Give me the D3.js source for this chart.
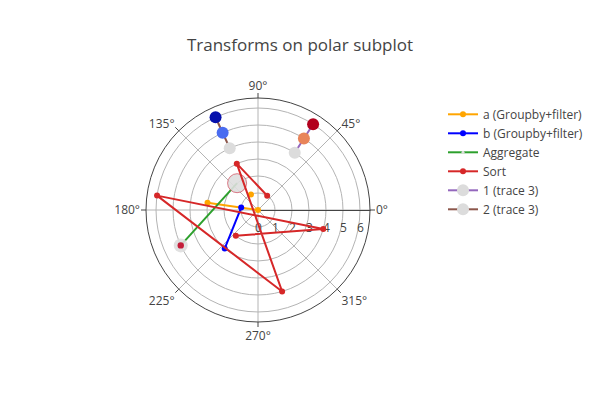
<!DOCTYPE html>
<html><head><meta charset="utf-8">
<script src="https://cdn.jsdelivr.net/npm/d3@7/dist/d3.min.js"></script>
<style>body{margin:0;background:#fff} svg{font-family:"Open Sans",sans-serif}</style>
</head><body><svg id="c" width="600" height="400"></svg>
<script>
// ---- data (theta in radians) ----
const chartTitle = "Transforms on polar subplot";
const angleTicks = [0, 45, 90, 135, 180, 225, 270, 315];
const radialTicks = [0, 1, 2, 3, 4, 5, 6];
const traceNames = ["a (Groupby+filter)", "b (Groupby+filter)", "Aggregate", "Sort", "1 (trace 3)", "2 (trace 3)"];
const aR = [3, 0, null, 1];
const aTheta = [3, 0, null, 2];
const bR = [1, 3];
const bTheta = [3, 4];
const aggR = [5, 2];
const aggTheta = [3.571, 2.233];
const sortR = [2, 4, 6, 5, 3, 1];
const sortTheta = [4, 6, 3, 5, 2, 1];
const t1R = [4, 5, 6];
const t1Theta = [1, 1, 1];
const t1Color = [0, 1, 2];
const t2R = [4, 5, 6];
const t2Theta = [2, 2, 2];
const t2Color = [0, -1, -2];
const radialMax = 6.59;

// ---- layout ----
const svg = d3.select("#c");
const cx = 258, cy = 210, R = 112;
const textColor = "#444", gridColor = "rgb(180,180,180)";
const r = d3.scaleLinear().domain([0, radialMax]).range([0, R]);
const deg = d3.scaleLinear().domain([0, 360]).range([0, 2 * Math.PI]);
const colorScale = d3.scaleLinear().domain([-2, -1, 0, 1, 2])
  .range(["#0510ac", "#4a6cf0", "#dcdcdc", "#e8845a", "#b2001d"]);

svg.append("text").attr("x", 300).attr("y", 45).attr("dy", "0.35em")
  .attr("text-anchor", "middle").attr("font-size", 17).attr("fill", textColor).text(chartTitle);

const g = svg.append("g").attr("transform", `translate(${cx},${cy})`);
const pt = (rv, t) => [r(rv) * Math.cos(t), -r(rv) * Math.sin(t)];

// radial grid circles
g.selectAll("circle.grid").data(radialTicks.filter(d => d > 0)).join("circle")
  .attr("r", d => r(d)).attr("fill", "none").attr("stroke", gridColor).attr("stroke-width", 1);
// angular grid spokes
g.selectAll("line.spoke").data(angleTicks).join("line")
  .attr("x1", 0).attr("y1", 0)
  .attr("x2", d => R * Math.cos(deg(d))).attr("y2", d => -R * Math.sin(deg(d)))
  .attr("stroke", gridColor).attr("stroke-width", 1);
// outer circle
g.append("circle").attr("r", R).attr("fill", "none").attr("stroke", textColor).attr("stroke-width", 1);
// angular ticks
g.selectAll("line.atick").data(angleTicks).join("line")
  .attr("x1", d => R * Math.cos(deg(d))).attr("y1", d => -R * Math.sin(deg(d)))
  .attr("x2", d => (R + 5) * Math.cos(deg(d))).attr("y2", d => -(R + 5) * Math.sin(deg(d)))
  .attr("stroke", textColor).attr("stroke-width", 1);
// angular labels
const pad = 6, fs = 12;
g.selectAll("text.alab").data(angleTicks).join("text")
  .attr("font-size", fs).attr("fill", textColor)
  .attr("text-anchor", d => { const c = Math.cos(deg(d)); return Math.abs(c) < 0.1 ? "middle" : (c > 0 ? "start" : "end"); })
  .attr("x", d => (R + pad) * Math.cos(deg(d)))
  .attr("y", d => { const a = deg(d), s = Math.sin(a), ff = s > 0 ? 0.2 : 1;
    return -R * s - s * (pad + fs * ff) + Math.abs(Math.cos(a)) * fs * 0.35; })
  .text(d => d + "°");

// radial axis
const rAxis = d3.axisBottom(r).tickValues(radialTicks).tickFormat(d3.format("d"))
  .tickSize(0).tickSizeOuter(0).tickPadding(13.5);
const ra = g.append("g").call(rAxis);
ra.select(".domain").attr("stroke", textColor);
ra.selectAll("text").attr("font-size", 12).attr("fill", textColor).attr("font-family", '"Open Sans",sans-serif');

// traces
const plot = g.append("g");
function toPts(rs, ts) { return rs.map((v, i) => ({ r: v, t: ts[i] })); }
const line = d3.line().defined(d => d.r != null).x(d => pt(d.r, d.t)[0]).y(d => pt(d.r, d.t)[1]);
function drawTrace(rs, ts, color, mr) {
  const data = toPts(rs, ts);
  plot.append("path").attr("d", line(data)).attr("fill", "none").attr("stroke", color).attr("stroke-width", 2);
  plot.append("g").selectAll("circle").data(data.filter(d => d.r != null)).join("circle")
    .attr("cx", d => pt(d.r, d.t)[0]).attr("cy", d => pt(d.r, d.t)[1]).attr("r", mr).attr("fill", color);
}
drawTrace(aR, aTheta, "orange", 3);
drawTrace(bR, bTheta, "blue", 3);
// aggregate
{
  const data = toPts(aggR, aggTheta);
  plot.append("path").attr("d", line(data)).attr("fill", "none").attr("stroke", "#2ca02c").attr("stroke-width", 2);
  const sizes = [7, 9.5];
  const mk = plot.append("g").selectAll("g").data(data).join("g")
    .attr("transform", d => `translate(${pt(d.r, d.t)})`);
  mk.append("circle").attr("r", (d, i) => sizes[i]).attr("fill", "#dedede").attr("fill-opacity", 0.9)
    .attr("stroke", (d, i) => i === 1 ? "rgba(200,40,60,0.6)" : "none").attr("stroke-width", 1);
  mk.filter((d, i) => i === 0).append("circle").attr("r", 3.2).attr("fill", "#c41e3a");
}
drawTrace(sortR, sortTheta, "#d62728", 3);
function drawColored(rs, ts, cs, color) {
  const data = toPts(rs, ts);
  plot.append("path").attr("d", line(data)).attr("fill", "none").attr("stroke", color).attr("stroke-width", 2);
  plot.append("g").selectAll("circle").data(data).join("circle")
    .attr("cx", d => pt(d.r, d.t)[0]).attr("cy", d => pt(d.r, d.t)[1]).attr("r", 6)
    .attr("fill", (d, i) => colorScale(cs[i]));
}
drawColored(t1R, t1Theta, t1Color, "#9467bd");
drawColored(t2R, t2Theta, t2Color, "#8c564b");

// legend
const legColors = ["orange", "blue", "#2ca02c", "#d62728", "#9467bd", "#8c564b"];
const legMarker = [[3, "orange"], [3, "blue"], [1.5, "#dedede"], [3, "#d62728"], [6, "#dcdcdc"], [6, "#dcdcdc"]];
const leg = svg.append("g").selectAll("g").data(traceNames).join("g")
  .attr("transform", (d, i) => `translate(448,${114.3 + i * 19})`);
leg.append("line").attr("x1", 0).attr("x2", 30).attr("stroke", (d, i) => legColors[i]).attr("stroke-width", 2);
leg.append("circle").attr("cx", 15).attr("r", (d, i) => legMarker[i][0]).attr("fill", (d, i) => legMarker[i][1]);
leg.append("text").attr("x", 35).attr("dy", "0.35em").attr("font-size", 12).attr("fill", textColor).text(d => d);
</script></body></html>
